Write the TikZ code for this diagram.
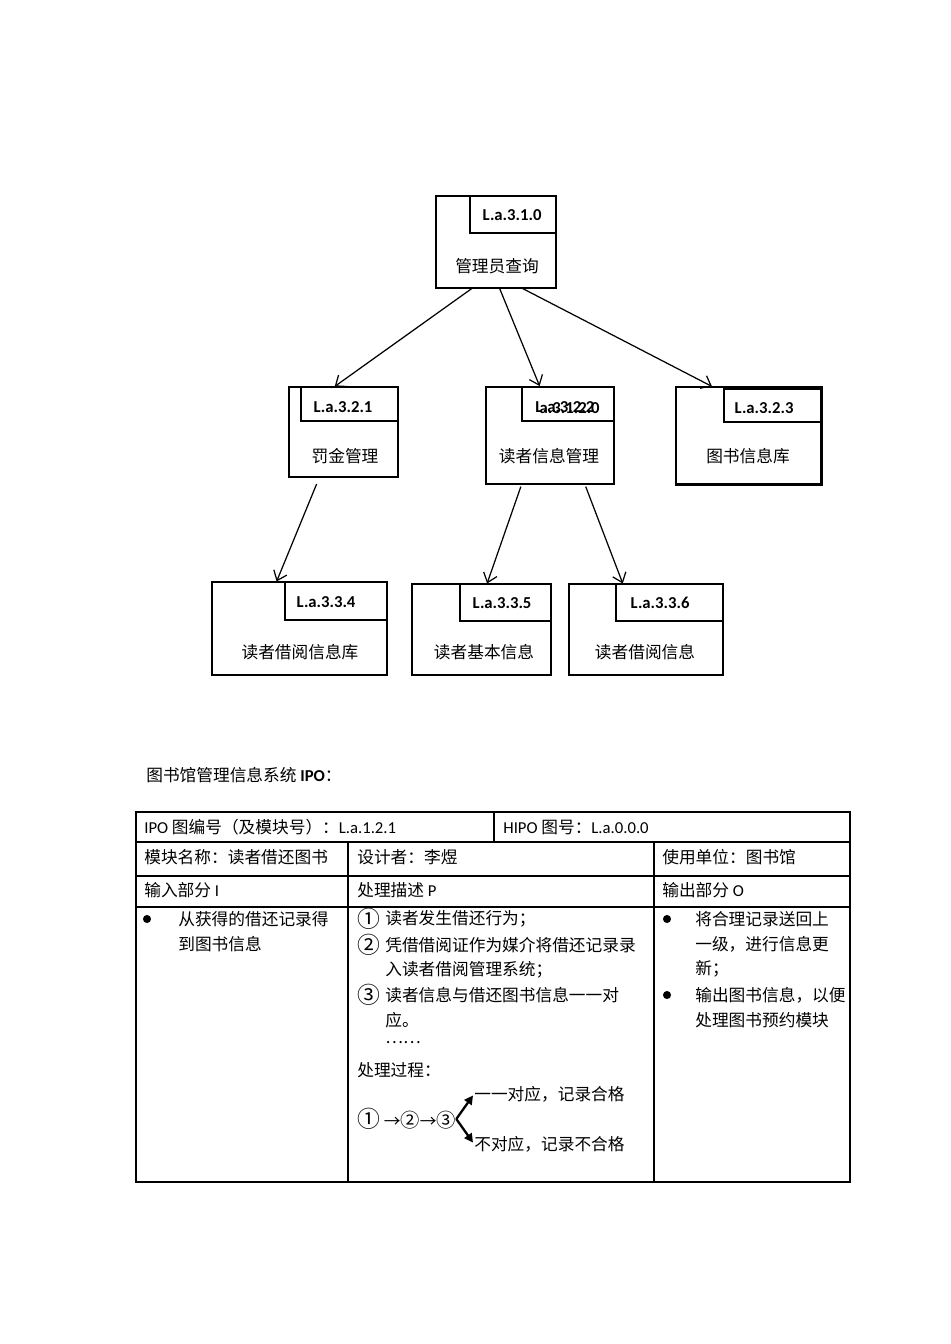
\documentclass[tikz,border=0pt]{standalone}
\usepackage{fontspec}
\setmainfont{Carlito}
\newfontfamily\cjk{Noto Sans CJK SC}
\usetikzlibrary{arrows.meta, calc, fit, positioning}
\newcommand{\lat}[1]{{\normalfont #1}}
\newcommand{\cnum}[1]{{\fontsize{13}{13}\selectfont #1}}

\begin{document}
\begin{tikzpicture}[x=0.02cm, y=-0.02cm]
	\tikzstyle{module_style}=[draw, inner sep=0, line width=0.6pt]
	\tikzstyle{id_style}=[inner sep=0, font=\fontsize{9.5}{11}\selectfont\bfseries]
	\tikzstyle{name_style}=[inner sep=0, font=\fontsize{9.5}{11}\selectfont\cjk]
	\tikzstyle{cell_style}=[anchor=west, inner sep=0, font=\fontsize{9.5}{11}\selectfont\cjk]
	\tikzstyle{tree_arrow}=[-{Straight Barb[length=5pt, width=8pt]}, line width=0.7pt]
	\tikzstyle{flow_arrow}=[-{Triangle[length=5pt, width=5pt]}, line width=1.3pt, shorten >=1pt]
	\useasboundingbox (0,0) rectangle (950,1344);
	% level 1
	\node [module_style, fit={(436,196) (556,288)}] (m310) {};
	\node [module_style, fit={(470,196) (556,233)}] (m310_box) {};
	\draw node at (512,215) [id_style] (m310_id) {L.a.3.1.0};
	\draw node at (497,266) [name_style] (m310_name) {管理员查询};
	% level 2
	\node [module_style, fit={(289,387) (398,477)}] (m321) {};
	\node [module_style, fit={(301,387) (398,421)}] (m321_box) {};
	\draw node at (343,407) [id_style] (m321_id) {L.a.3.2.1};
	\draw node at (345,456) [name_style] (m321_name) {罚金管理};
	\node [module_style, line width=1.1pt, fit={(486,387) (614,484)}] (m322) {};
	\node [module_style, fit={(522,387) (614,421)}] (m322_box) {};
	\draw node at (535,407) [id_style, anchor=west] (m322_id) {L.a.3.2.2};
	\draw node at (600,408) [id_style, anchor=east] (m322_id_old) {a.3.1.2.0};
	\draw node at (549,456) [name_style] (m322_name) {读者信息管理};
	\node [module_style, fit={(676,387) (821,484)}] (m323) {};
	\draw[line width=1.2pt] (m323.north east) -- (m323.south east) -- (m323.south west);
	\node [module_style, fit={(724,389) (821,422)}] (m323_box) {};
	\draw node at (764,408) [id_style] (m323_id) {L.a.3.2.3};
	\draw node at (748,456) [name_style] (m323_name) {图书信息库};
	% level 3
	\node [module_style, fit={(212,582) (387,675)}] (m334) {};
	\node [module_style, fit={(285,582) (387,620)}] (m334_box) {};
	\draw node at (326,602) [id_style] (m334_id) {L.a.3.3.4};
	\draw node at (300,652) [name_style] (m334_name) {读者借阅信息库};
	\node [module_style, fit={(412,584) (551,675)}] (m335) {};
	\node [module_style, fit={(460,584) (551,621)}] (m335_box) {};
	\draw node at (502,603) [id_style] (m335_id) {L.a.3.3.5};
	\draw node at (484,652) [name_style] (m335_name) {读者基本信息};
	\node [module_style, fit={(569,584) (723,675)}] (m336) {};
	\node [module_style, fit={(616,584) (723,621)}] (m336_box) {};
	\draw node at (660,603) [id_style] (m336_id) {L.a.3.3.6};
	\draw node at (645,652) [name_style] (m336_name) {读者借阅信息};
	% connect: calls
	\foreach \a/\fa/\b/\fb/\s in {m310/0.3/m321/0.42/0pt, m310/0.53/m322/0.42/0pt, m310/0.72/m323/0.25/0pt,
		m321/0.28/m334/0.37/4pt, m322/0.28/m335/0.54/1pt, m322/0.77/m336/0.35/1pt}
		\draw[tree_arrow, shorten <=\s] ($(\a.south west)!\fa!(\a.south east)$) -- ($(\b.north west)!\fb!(\b.north east)$);
	% IPO title
	\draw node at (146,775) [cell_style] (ipo_title) {图书馆管理信息系统 \lat{\bfseries IPO}：};
	% table grid
	\draw[line width=0.6pt] (136,812) rectangle (850,1182);
	\foreach \y in {842,876,907}
		\draw[line width=0.6pt] (136,\y) -- (850,\y);
	\draw[line width=0.6pt] (494,812) -- (494,842);
	\foreach \x in {348,654}
		\draw[line width=0.6pt] (\x,842) -- (\x,1182);
	% header cells
	\draw node at (144,827) [cell_style] (ipo_no) {\lat{IPO} 图编号（及模块号）：\lat{L.a.1.2.1}};
	\draw node at (503,827) [cell_style] (hipo_no) {\lat{HIPO} 图号：\lat{L.a.0.0.0}};
	\draw node at (144,857) [cell_style] (mod_name) {模块名称：读者借还图书};
	\draw node at (357,857) [cell_style] (designer) {设计者：李煜};
	\draw node at (662,857) [cell_style] (user) {使用单位：图书馆};
	\draw node at (144,890) [cell_style] (in_head) {输入部分 \lat{I}};
	\draw node at (357,890) [cell_style] (proc_head) {处理描述 \lat{P}};
	\draw node at (662,890) [cell_style] (out_head) {输出部分 \lat{O}};
	% input
	\fill (147,919) circle (2.3pt);
	\draw node at (178,919) [cell_style] (in_1a) {从获得的借还记录得};
	\draw node at (178,944) [cell_style] (in_1b) {到图书信息};
	% process
	\foreach \y/\n in {919/①, 945/②, 995/③}
		\draw node at (357,\y) [cell_style] (proc_no_\y) {\cnum{\n}};
	\draw node at (385,919) [cell_style] (proc_1) {读者发生借还行为；};
	\draw node at (385,945) [cell_style] (proc_2a) {凭借借阅证作为媒介将借还记录录};
	\draw node at (385,970) [cell_style] (proc_2b) {入读者借阅管理系统；};
	\draw node at (385,995) [cell_style] (proc_3a) {读者信息与借还图书信息一一对};
	\draw node at (385,1020) [cell_style] (proc_3b) {应。};
	\draw node at (385,1043) [cell_style] (proc_more) {……};
	\draw node at (357,1070) [cell_style] (proc_flow_head) {处理过程：};
	\draw node at (357,1119) [cell_style] (flow) {\cnum{①} →{\fontsize{11}{11}\selectfont ②}→{\fontsize{11}{11}\selectfont ③}};
	\draw node at (474,1094) [cell_style] (flow_ok) {一一对应，记录合格};
	\draw node at (474,1144) [cell_style] (flow_bad) {不对应，记录不合格};
	\draw[flow_arrow] (flow.east) -- (flow_ok.west);
	\draw[flow_arrow] (flow.east) -- (flow_bad.west);
	% output
	\foreach \y in {919,995}
		\fill (667,\y) circle (2.3pt);
	\draw node at (695,919) [cell_style] (out_1a) {将合理记录送回上};
	\draw node at (695,944) [cell_style] (out_1b) {一级，进行信息更};
	\draw node at (695,969) [cell_style] (out_1c) {新；};
	\draw node at (695,995) [cell_style] (out_2a) {输出图书信息，以便};
	\draw node at (695,1020) [cell_style] (out_2b) {处理图书预约模块};
\end{tikzpicture}
\end{document}
